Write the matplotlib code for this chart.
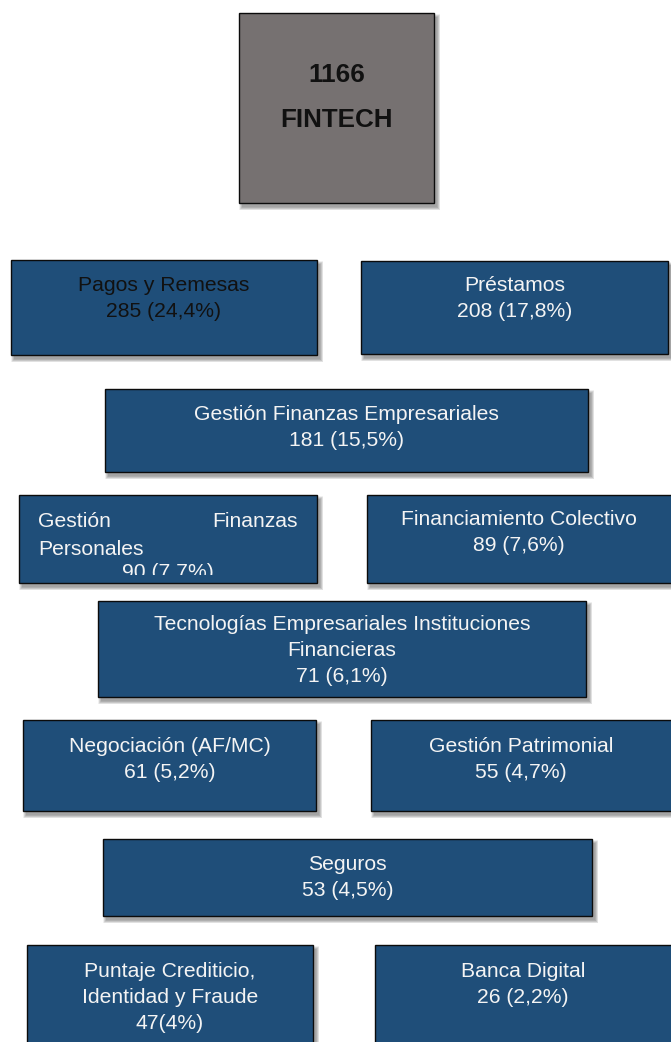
import matplotlib
matplotlib.use("Agg")
import matplotlib.pyplot as plt
from matplotlib.patches import Rectangle
from matplotlib.transforms import Bbox, TransformedBbox, IdentityTransform

# ---- data ----
total_label = "1166"
total_name = "FINTECH"
categories = [
    "Pagos y Remesas",
    "Préstamos",
    "Gestión Finanzas Empresariales",
    "Gestión Finanzas Personales",
    "Financiamiento Colectivo",
    "Tecnologías Empresariales Instituciones Financieras",
    "Negociación (AF/MC)",
    "Gestión Patrimonial",
    "Seguros",
    "Puntaje Crediticio, Identidad y Fraude",
    "Banca Digital",
]
counts = [285, 208, 181, 90, 89, 71, 61, 55, 53, 47, 26]
pct_labels = ["(24,4%)", "(17,8%)", "(15,5%)", "(7.7%)", "(7,6%)", "(6,1%)",
              "(5,2%)", "(4,7%)", "(4,5%)", "(4%)", "(2,2%)"]

# line breaks of the category names as shown in the boxes
name_lines = [
    ["Pagos y Remesas"],
    ["Préstamos"],
    ["Gestión Finanzas Empresariales"],
    ["Gestión Finanzas", "Personales"],
    ["Financiamiento Colectivo"],
    ["Tecnologías Empresariales Instituciones", "Financieras"],
    ["Negociación (AF/MC)"],
    ["Gestión Patrimonial"],
    ["Seguros"],
    ["Puntaje Crediticio,", "Identidad y Fraude"],
    ["Banca Digital"],
]
value_sep = [" ", " ", " ", " ", " ", " ", " ", " ", " ", "", " "]

# ---- layout (pixels) ----
W, H = 671, 1042
boxes = [  # x0, y0, x1, y1, first baseline
    (11, 260, 317, 355, 291),
    (361, 261, 668, 354, 291),
    (105, 389, 588, 472, 419.8),
    (19, 495, 317, 583, 526.8),
    (367, 495, 676, 583, 525),
    (98, 601, 586, 697, 629.6),
    (23, 720, 316, 811, 751.6),
    (371, 720, 676, 811, 751.6),
    (103, 839, 592, 916, 869.6),
    (27, 945, 313, 1060, 976.6),
    (375, 945, 676, 1060, 976.6),
]
line_gap = 26.3
BLUE = "#1F4E79"
GRAY = "#767171"
EDGE = "#0b0b0b"
FONT = "Liberation Sans"
fs = 21.2 * 72 / 100
fs_bold = 26 * 72 / 100

fig = plt.figure(figsize=(W / 100, H / 100), dpi=100)
ax = fig.add_axes([0, 0, 1, 1])
ax.set_xlim(0, W)
ax.set_ylim(H, 0)
ax.axis("off")


def draw_box(x0, y0, x1, y1, color):
    # soft shadow (offset down/right, blurred by stacking)
    for i in range(7):
        d = i * 1.0
        ax.add_patch(Rectangle((x0 + 3 - d / 2, y0 + 4 - d / 2),
                               (x1 - x0) + d, (y1 - y0) + d,
                               facecolor="#000000", edgecolor="none",
                               alpha=0.06, zorder=1))
    r = Rectangle((x0, y0), x1 - x0, y1 - y0, facecolor=color,
                  edgecolor=EDGE, linewidth=1.0, zorder=3)
    ax.add_patch(r)
    return r


# top box
draw_box(239, 13, 434, 203, GRAY)
ax.text(336.5, 81.7, total_label, ha="center", va="baseline", fontsize=fs_bold,
        fontweight="bold", family=FONT, color="#111111", zorder=5)
ax.text(336.5, 126.7, total_name, ha="center", va="baseline", fontsize=fs_bold,
        fontweight="bold", family=FONT, color="#111111", zorder=5)

for i, (x0, y0, x1, y1, b0) in enumerate(boxes):
    draw_box(x0, y0, x1, y1, BLUE)
    tcolor = "#111111" if i == 0 else "#F4F4F4"
    cx = (x0 + min(x1, W)) / 2
    lines = list(name_lines[i])
    value_line = f"{counts[i]}{value_sep[i]}{pct_labels[i]}"
    if i == 3:
        # justified first line, left-aligned second line
        ax.text(38, b0, lines[0].split()[0], ha="left", va="baseline",
                fontsize=fs, family=FONT, color=tcolor, zorder=5)
        ax.text(298, b0, lines[0].split()[1], ha="right", va="baseline",
                fontsize=fs, family=FONT, color=tcolor, zorder=5)
        ax.text(38, b0 + 27.8, lines[1], ha="left", va="baseline",
                fontsize=fs, family=FONT, color=tcolor, zorder=5)
        t = ax.text((x0 + x1) / 2, b0 + 51, value_line, ha="center",
                    va="baseline", fontsize=fs, family=FONT, color=tcolor,
                    zorder=5)
        pa = ax.transData.transform((x0, y0))
        pb = ax.transData.transform((x1, 574.5))
        bb = Bbox.from_extents(min(pa[0], pb[0]), min(pa[1], pb[1]),
                               max(pa[0], pb[0]), max(pa[1], pb[1]))
        t.set_clip_box(TransformedBbox(bb, IdentityTransform()))
        t.set_clip_on(True)
        continue
    for k, ln in enumerate(lines + [value_line]):
        ax.text(cx, b0 + k * line_gap, ln, ha="center", va="baseline",
                fontsize=fs, family=FONT, color=tcolor, zorder=5)

fig.savefig("out.png", dpi=100, facecolor="white")
